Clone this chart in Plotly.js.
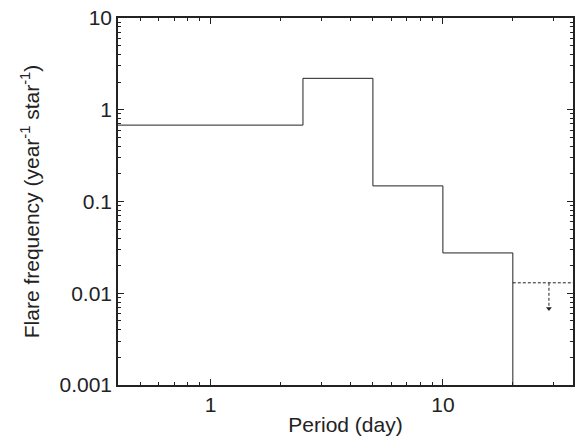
<!DOCTYPE html>
<html>
<head>
<script src="https://cdn.plot.ly/plotly-3.0.1.min.js"></script>
<style>body{margin:0}</style>
</head>
<body>
<div id="chart" style="width:575px;height:437px"></div>
<script>
// bin edges (day) and flare frequency per bin
const binEdges = [0.4, 2.5, 5, 10, 20];
const binFreq = [0.68, 2.2, 0.148, 0.0275];
const floorFreq = 0.001;
// upper limit bin
const limitX = [20, 36.3];
const limitY = 0.013;
const arrowX = 28.6;
const arrowY = [0.013, 0.0068];
const xTicks = [1, 10];
const yTicks = [0.001, 0.01, 0.1, 1, 10];
const yTickText = ["0.001", "0.01", "0.1", "1", "10"];

let stepX = [], stepY = [];
for (let i = 0; i < binFreq.length; i++) {
    stepX.push(binEdges[i], binEdges[i + 1]);
    stepY.push(binFreq[i], binFreq[i]);
}
stepX.push(binEdges[binEdges.length - 1]);
stepY.push(floorFreq);

// minor tick positions 2..9 in each decade
const minorVals = (lo, hi) => {
    let v = [];
    for (let d = lo; d < hi; d++) for (let m = 2; m <= 9; m++) v.push(m * Math.pow(10, d));
    return v;
};

const traces = [
    { x: stepX, y: stepY, type: "scatter", mode: "lines", line: { color: "#222", width: 1 } },
    { x: limitX, y: [limitY, limitY], type: "scatter", mode: "lines", line: { color: "#222", width: 1, dash: "3px,2px" } },
    { x: [arrowX, arrowX], y: arrowY, type: "scatter", mode: "lines", line: { color: "#222", width: 1, dash: "3px,2px" } },
    { x: [arrowX], y: [arrowY[1]], type: "scatter", mode: "markers",
      marker: { symbol: "triangle-down", size: 5, color: "#222" } },
];

const font = { family: "Liberation Sans, Arial", size: 21, color: "#222" };
const axisCommon = {
    type: "log", showline: true, linecolor: "#222", linewidth: 1.5, mirror: "allticks",
    ticks: "inside", ticklen: 6, tickcolor: "#222", showgrid: false, zeroline: false,
    tickfont: font,
};

const layout = {
    width: 575, height: 437,
    margin: { l: 118, r: 2, t: 18, b: 52 },
    showlegend: false,
    plot_bgcolor: "white", paper_bgcolor: "white",
    xaxis: Object.assign({}, axisCommon, {
        range: [Math.log10(0.4), Math.log10(36.3)],
        tickmode: "array", tickvals: xTicks, ticktext: xTicks.map(String),
        minor: { tickmode: "array", tickvals: minorVals(-1, 2), ticks: "inside", ticklen: 3, tickcolor: "#222", showgrid: false },
        title: { text: "Period (day)", font: font, standoff: 2 },
    }),
    yaxis: Object.assign({}, axisCommon, {
        range: [-3, 1],
        tickmode: "array", tickvals: yTicks, ticktext: yTickText,
        minor: { tickmode: "array", tickvals: minorVals(-3, 1), ticks: "inside", ticklen: 3, tickcolor: "#222", showgrid: false },
        title: { text: "Flare frequency (year<sup>-1</sup> star<sup>-1</sup>)", font: font, standoff: 14 },
    }),
};

Plotly.newPlot("chart", traces, layout, { displayModeBar: false, responsive: false });
</script>
</body>
</html>
